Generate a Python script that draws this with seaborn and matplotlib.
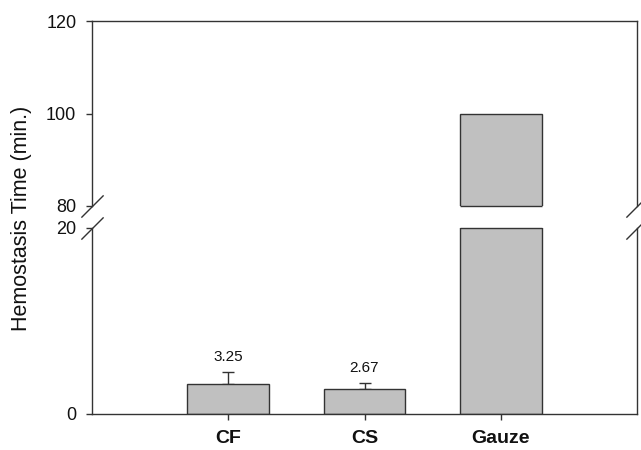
import numpy as np
import matplotlib
matplotlib.use("Agg")
import matplotlib.pyplot as plt
import seaborn as sns

# Hemostasis time per dressing (minutes), mean and SD
categories = ["CF", "CS", "Gauze"]
times = [3.25, 2.67, 100.0]
sd = [1.25, 0.66, 0.0]

# Broken y-axis: upper and lower segments
upper_range = (80, 120)
lower_range = (0, 20)
upper_ticks = [80, 100, 120]
lower_ticks = [0, 20]

sns.set_theme(style="white")
plt.rcParams["font.family"] = ["Liberation Sans", "DejaVu Sans"]

LINE = "#333333"
FILL = "#c0c0c0"
TEXT = "#111111"

W, H = 641, 450
fig = plt.figure(figsize=(W / 100, H / 100), dpi=100)
left, right = 92, 637
ax_top = fig.add_axes([left / W, (H - 206) / H, (right - left) / W, 185 / H])
ax_bot = fig.add_axes([left / W, (H - 414) / H, (right - left) / W, 186 / H])

for ax, yr, yt in ((ax_top, upper_range, upper_ticks), (ax_bot, lower_range, lower_ticks)):
    sns.barplot(x=categories, y=times, ax=ax, color=FILL, saturation=1,
                edgecolor=LINE, linewidth=1.0, width=0.6, errorbar=None, zorder=2)
    ax.set_ylim(*yr)
    ax.set_xlim(-1, 3)
    ax.set_yticks(yt)
    ax.set_yticklabels([str(t) for t in yt])
    ax.set_xlabel("")
    ax.set_ylabel("")
    for s in ax.spines.values():
        s.set_color(LINE)
        s.set_linewidth(1.0)
    ax.tick_params(axis="y", which="both", left=True, right=False, direction="out",
                   length=4.3, width=1.0, color=LINE, labelsize=13, labelcolor=TEXT, pad=7)
    # close off bars where they leave the visible segment
    lo, hi = ax.get_ylim()
    for p in ax.patches:
        y0, y1 = p.get_y(), p.get_y() + p.get_height()
        for edge in (lo, hi):
            if y0 < edge < y1:
                ax.hlines(edge, p.get_x(), p.get_x() + p.get_width(), color=LINE,
                          linewidth=1.0, clip_on=False, zorder=3)

ax_top.spines["bottom"].set_visible(False)
ax_top.tick_params(axis="x", bottom=False, labelbottom=False)
ax_bot.spines["top"].set_visible(False)
ax_bot.tick_params(axis="x", bottom=True, direction="out", length=4, width=1.0,
                   color=LINE, pad=7.5)
for lbl in ax_bot.get_xticklabels():
    lbl.set_fontweight("bold")
    lbl.set_fontsize(14)
    lbl.set_color(TEXT)

# upper error bars and value labels for bars within the lower segment
xpos = np.arange(len(categories))
for i, (v, e) in enumerate(zip(times, sd)):
    if e > 0:
        ax_bot.errorbar([xpos[i]], [v], yerr=[[0], [e]], fmt="none", ecolor=LINE,
                        elinewidth=1.0, capsize=4, capthick=1.0, zorder=1)
    if v < lower_range[1]:
        ax_bot.annotate(f"{v:.2f}", xy=(xpos[i], v + e), xytext=(0, 6),
                        textcoords="offset points", ha="center", va="bottom",
                        fontsize=11, color=TEXT)

# break marks on both vertical spines
kw = dict(marker=[(-1, -1), (1, 1)], markersize=16, linestyle="none",
          color=LINE, mec=LINE, mew=1.0, clip_on=False)
ax_top.plot([0, 1], [0, 0], transform=ax_top.transAxes, **kw)
ax_bot.plot([0, 1], [1, 1], transform=ax_bot.transAxes, **kw)

fig.text(22 / W, 1 - 218 / H, "Hemostasis Time (min.)", rotation=90,
         ha="center", va="center", fontsize=15.5, color=TEXT)

fig.savefig("out.png", dpi=100, facecolor="white")
